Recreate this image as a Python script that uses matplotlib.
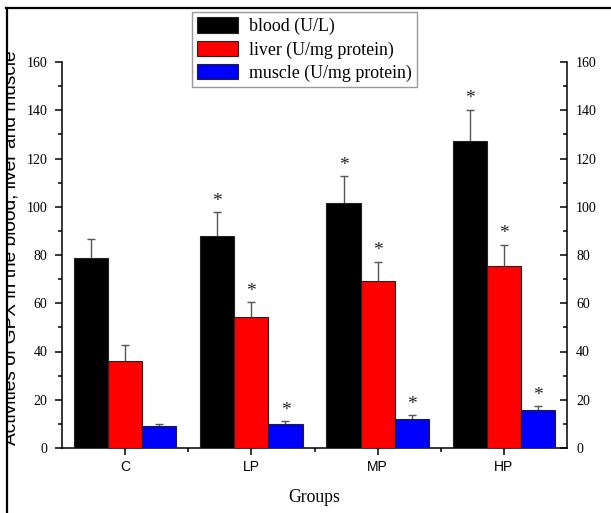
import matplotlib
matplotlib.use('Agg')
import matplotlib.pyplot as plt
import numpy as np
from matplotlib.lines import Line2D
from matplotlib.patches import Rectangle
from matplotlib.ticker import MultipleLocator, FixedLocator

# data
groups = ['C', 'LP', 'MP', 'HP']
series = ['blood (U/L)', 'liver (U/mg protein)', 'muscle (U/mg protein)']
blood = [78.8, 88.0, 101.7, 127.4]
blood_err = [8.0, 9.7, 11.0, 12.8]
liver = [36.2, 54.4, 69.2, 75.3]
liver_err = [6.6, 6.0, 8.0, 9.0]
muscle = [9.0, 9.8, 12.2, 15.6]
muscle_err = [1.0, 1.2, 1.3, 1.7]
signif = [False, True, True, True]
colours = ['#000000', '#ff0000', '#0000ff']

serif = 'Liberation Serif'
sans = 'Liberation Sans'

W, H = 611, 513
fig = plt.figure(figsize=(W / 100, H / 100), dpi=100)
ax = fig.add_axes([62 / W, 65 / H, 505 / W, 386 / H])

x = np.arange(len(groups))
bw = 0.27
vals = [blood, liver, muscle]
errs = [blood_err, liver_err, muscle_err]
for i in range(3):
    xs = x + (i - 1) * bw
    ax.bar(xs, vals[i], bw, color=colours[i], edgecolor='#222222',
           linewidth=0.8, label=series[i], zorder=3)
    ax.errorbar(xs, vals[i], yerr=errs[i], fmt='none', ecolor='#555555',
                elinewidth=1.0, capsize=2.6, capthick=1.0, zorder=2)
    for j in range(len(groups)):
        if signif[j]:
            ax.annotate('*', (xs[j], vals[i][j] + errs[i][j]), xytext=(0, 4.6),
                        textcoords='offset points', ha='center', va='baseline',
                        fontsize=14, family=serif, color='#222222')

ax.set_xlim(-0.5, 3.5)
ax.set_ylim(0, 160)
ax.spines['top'].set_visible(False)
ax.spines['right'].set_visible(False)
for s in ['left', 'bottom']:
    ax.spines[s].set_linewidth(1.1)

ax.set_xticks(x)
ax.set_xticklabels(groups, family=sans, fontsize=10)
ax.xaxis.set_minor_locator(FixedLocator([0.5, 1.5, 2.5]))
ax.tick_params(axis='x', which='major', direction='out', length=5, width=1.1, pad=3.5)
ax.tick_params(axis='x', which='minor', direction='out', length=3, width=1.1)

ax.yaxis.set_major_locator(MultipleLocator(20))
ax.yaxis.set_minor_locator(MultipleLocator(10))
ax.tick_params(axis='y', which='major', direction='out', length=5, width=1.1, pad=5.5,
               labelsize=10)
ax.tick_params(axis='y', which='minor', direction='out', length=3, width=1.1)
for t in ax.get_yticklabels():
    t.set_family(serif)

ax2 = ax.twinx()
ax2.set_ylim(0, 160)
ax2.yaxis.set_major_locator(MultipleLocator(20))
ax2.yaxis.set_minor_locator(MultipleLocator(10))
for s in ['top', 'left', 'bottom']:
    ax2.spines[s].set_visible(False)
ax2.spines['right'].set_linewidth(1.1)
ax2.tick_params(axis='y', which='major', direction='in', length=5, width=1.1, pad=6.5,
                labelsize=10)
ax2.tick_params(axis='y', which='minor', direction='in', length=3, width=1.1)
for t in ax2.get_yticklabels():
    t.set_family(serif)

ax.set_xlabel('Groups', family=serif, fontsize=12.7, va='center')
ax.xaxis.set_label_coords(0.5, (448 - 497) / 386)

fig.text(20 / W, 1 - 247.5 / H, 'Activities of GPX in the blood, liver and muscle',
         rotation=90, ha='right', va='center', family=sans, fontsize=13.8)

leg = ax.legend(loc='upper left', bbox_to_anchor=(192 / W, 1 - 12 / H),
                bbox_transform=fig.transFigure, prop={'family': serif, 'size': 12.9},
                frameon=True, fancybox=False, handlelength=2.25, handleheight=0.95,
                handletextpad=0.62, borderpad=0.3, labelspacing=0.3,
                borderaxespad=0)
leg.get_frame().set_edgecolor('#808080')
leg.get_frame().set_linewidth(1.0)

# outer frame (top and left edge), clips the y label
fig.patches.append(Rectangle((0, 0), 6.5 / W, 1, transform=fig.transFigure,
                             facecolor='white', edgecolor='none', zorder=10))
fig.lines.append(Line2D([7 / W, 7 / W], [0, 1 - 7.5 / H], transform=fig.transFigure,
                        color='black', linewidth=1.6, zorder=11))
fig.lines.append(Line2D([6.2 / W, 1], [1 - 7.5 / H, 1 - 7.5 / H], transform=fig.transFigure,
                        color='black', linewidth=1.6, zorder=11))

fig.savefig('out.png', dpi=100)
